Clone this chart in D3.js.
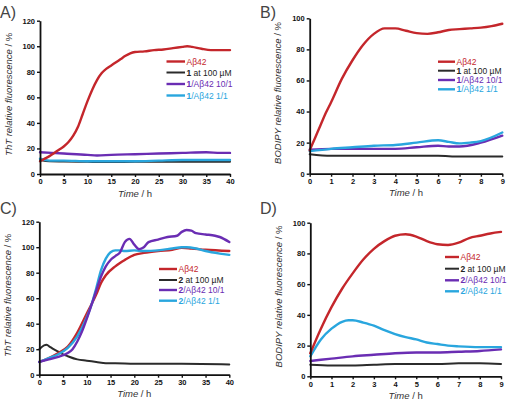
<!DOCTYPE html>
<html><head><meta charset="utf-8">
<script src="https://cdn.jsdelivr.net/npm/d3@7"></script>
<style>
html,body{margin:0;padding:0;background:#fff;}
svg{display:block;font-family:"Liberation Sans",Arial,sans-serif;}
</style></head>
<body><svg id="c" width="516" height="402"></svg>
<script>
// ---------- DATA ----------
const panelLabels = ["A)", "B)", "C)", "D)"];
const yTitlesDye = ["ThT", "BODIPY", "ThT", "BODIPY"];
const longTicks = [0, 5, 10, 15, 20, 25, 30, 35, 40];
const shortTicks = [0, 1, 2, 3, 4, 5, 6, 7, 8, 9];
const yTicks120 = [0, 20, 40, 60, 80, 100, 120];
const yTicks100 = [0, 20, 40, 60, 80, 100];
const seriesColors = ["#c4262b", "#2b2b2b", "#6a2db3", "#29a6de"];
const legendCompound = ["1", "1", "2", "2"];

// Panel A (ThT, compound 1)
const tA_abeta = [0,1,2,3,4,5,6,7,8,9,10,11,12,13,14,15,16,17,18,19,20,22,24,26,28,30,31,32,34,36,38,40];
const vA_abeta = [10,12,14,16.5,19,21.5,25,30,37,47,57,66,73.5,79,82.5,85,87.5,90,92.5,94.5,95.5,96,97,97.5,98.5,99.5,100,99.5,98,97,97,97];
const tA_cmp = [0,2,5,10,15,20,25,30,35,40];
const vA_cmp = [11,10,9.8,9.5,9.3,9.5,9.5,9.5,9.5,9.5];
const tA_r10 = [0,5,10,12,15,20,25,30,35,38,40];
const vA_r10 = [17,16,15,14.5,15,15.5,16,16.5,17,16.5,16.5];
const tA_r1 = [0,2,5,10,15,20,25,30,35,40];
const vA_r1 = [12,10.5,10.5,10,10,10,10.5,11,11,11];

// Panel B (BODIPY, compound 1)
const tB_abeta = [0,0.25,0.5,0.75,1,1.5,2,2.5,3,3.5,4,4.5,5,5.5,6,6.5,7,7.5,8,8.5,9];
const vB_abeta = [15,23,31,39,46,61,73,83,90,93.5,93.5,92,90.5,90,91,92.5,93,93.5,94,95,96.5];
const tB_cmp = [0,1,2,3,4,5,6,7,8,9];
const vB_cmp = [12.5,11.5,11.5,11.5,11.5,11.5,11.5,11,11,11];
const tB_r10 = [0,1,2,3,4,5,6,6.5,7,8,9];
const vB_r10 = [15.5,16,16,16,16,17,18,17.5,17.5,20,24.5];
const tB_r1 = [0,1,2,3,4,5,6,6.5,7,7.5,8,9];
const vB_r1 = [14.5,16,17,18,18.5,20,21.5,20.5,19.5,20,21,26.5];

// Panel C (ThT, compound 2)
const tC_abeta = [0,2,4,6,8,10,12,13,14,16,18,20,22,25,28,30,32,35,40];
const vC_abeta = [10,13,17,22,33,48,63,72,78,85,90,94,95.5,97,98,99.5,99,98,97];
const tC_cmp = [0,1,1.5,2,3,4,5,6,8,10,12,14,16,20,30,40];
const vC_cmp = [20,23,23.5,22.5,20,18,16,14.5,12,11,10,9,9,8.5,8.5,8];
const tC_r10 = [0,2,4,6,7,8,9,10,11,12,13,14,15,16,17,18,19,20,21,22,23,25,27,29,30,31,32,33,35,37,38,40];
const vC_r10 = [10,12,14,17,20,26,34,44,55,66,77,85,90,93,96,104,106.5,102,98.5,100,104,106,108,109,112,113.5,113,111,110,109,108,104];
const tC_r1 = [0,2,4,6,8,10,11,12,13,14,15,16,17,18,20,22,25,28,30,31,33,35,38,40];
const vC_r1 = [10,13,16,21,30,45,55,68,82,91,96,97.5,97.5,97,97.5,97,97.5,99,100,100,99,97,95,94];

// Panel D (BODIPY, compound 2)
const tD_abeta = [0,0.5,1,1.5,2,2.5,3,3.5,4,4.5,5,5.5,6,6.5,7,7.5,8,8.5,9];
const vD_abeta = [15,31,45,57,67,76,83,88,91.5,92.5,91,88,86,85.5,87,90,91.5,93,94];
const tD_cmp = [0,1,2,3,4,5,6,7,8,9];
const vD_cmp = [7.5,7,7,7.5,8,8,8,8.5,8.5,8];
const tD_r10 = [0,1,2,3,4,5,6,7,8,9];
const vD_r10 = [10,11.5,13,14,15,15.5,15.5,16,16.5,17.5];
const tD_r1 = [0,0.5,1,1.5,1.8,2,2.5,3,3.5,4,4.5,5,5.5,6,6.5,7,8,9];
const vD_r1 = [13,24,31,35.5,36.5,36.5,35,33,30,27.5,25.5,24,22,21,20,19.5,19,19];

// ---------- LAYOUT ----------
const panels = [
  {x0:40, x1:230, y0:174, y1:20.7, xmax:40, xt:longTicks, ymax:120, yt:yTicks120,
   lab:[0,18], ytx:12, leg:{x:166.5, y:[61.5,72.5,84,95.5], w:18.5},
   series:[[tA_cmp,vA_cmp,1],[tA_r1,vA_r1,3],[tA_r10,vA_r10,2],[tA_abeta,vA_abeta,0]]},
  {x0:309.7, x1:502.3, y0:173.7, y1:18.3, xmax:9, xt:shortTicks, ymax:100, yt:yTicks100,
   lab:[260,18], ytx:281, leg:{x:438, y:[61.7,70.7,80,89.3], w:17},
   series:[[tB_cmp,vB_cmp,1],[tB_r10,vB_r10,2],[tB_r1,vB_r1,3],[tB_abeta,vB_abeta,0]]},
  {x0:39.3, x1:229.3, y0:374.7, y1:221.7, xmax:40, xt:longTicks, ymax:120, yt:yTicks120,
   lab:[0,214], ytx:11, leg:{x:159, y:[269,280,290,300.7], w:18},
   series:[[tC_cmp,vC_cmp,1],[tC_abeta,vC_abeta,0],[tC_r1,vC_r1,3],[tC_r10,vC_r10,2]]},
  {x0:310.3, x1:501, y0:376.3, y1:222.7, xmax:9, xt:shortTicks, ymax:100, yt:yTicks100,
   lab:[260,214], ytx:282, leg:{x:445, y:[257,268.7,280.3,291.3], w:14},
   series:[[tD_cmp,vD_cmp,1],[tD_r10,vD_r10,2],[tD_r1,vD_r1,3],[tD_abeta,vD_abeta,0]]}
];

const svg = d3.select("#c");

panels.forEach((p, i) => {
  const x = d3.scaleLinear().domain([0, p.xmax]).range([p.x0, p.x1]);
  const y = d3.scaleLinear().domain([0, p.ymax]).range([p.y0, p.y1]);
  const g = svg.append("g");

  // panel label
  svg.append("text").attr("x", p.lab[0]).attr("y", p.lab[1])
    .attr("font-size", 16).attr("fill", "#444")
    .attr("font-family", "'Liberation Sans',Arial,sans-serif").text(panelLabels[i]);

  // series lines
  const line = d3.line().x(d => x(d[0])).y(d => y(d[1])).curve(d3.curveMonotoneX);
  p.series.forEach(([ts, vs, ci]) => {
    const pts = ts.map((t, k) => [t, vs[k]]);
    g.append("path").attr("d", line(pts)).attr("fill", "none")
      .attr("stroke", seriesColors[ci]).attr("stroke-width", ci === 1 ? 2 : 2.4)
      .attr("stroke-linejoin", "round").attr("stroke-linecap", "round");
  });

  // axes
  const xAxis = d3.axisBottom(x).tickValues(p.xt).tickSize(3).tickSizeOuter(0).tickPadding(2);
  const yAxis = d3.axisLeft(y).tickValues(p.yt).tickSize(3).tickSizeOuter(0).tickPadding(2);
  const gx = g.append("g").attr("transform", `translate(0,${p.y0})`).call(xAxis);
  const gy = g.append("g").attr("transform", `translate(${p.x0},0)`).call(yAxis);
  [gx, gy].forEach(a => {
    a.select(".domain").attr("stroke", "#111").attr("stroke-width", 1.8);
    a.selectAll(".tick line").attr("stroke", "#111").attr("stroke-width", 1.4);
    a.selectAll(".tick text").attr("font-size", 7.5).attr("font-weight", "bold")
      .attr("fill", "#111").attr("font-family", "'Liberation Sans',Arial,sans-serif");
  });

  // axis titles
  const xt = svg.append("text").attr("x", (p.x0 + p.x1) / 2).attr("y", p.y0 + 22.5)
    .attr("text-anchor", "middle").attr("font-size", 9.5).attr("fill", "#333");
  xt.append("tspan").attr("font-style", "italic").text("Time");
  xt.append("tspan").text(" / h");

  const yc = (p.y0 + p.y1) / 2 - 3;
  const yt = svg.append("text").attr("transform", `translate(${p.ytx},${yc}) rotate(-90)`)
    .attr("text-anchor", "middle").attr("font-size", 9.5).attr("fill", "#333");
  yt.append("tspan").attr("font-style", "italic").text(yTitlesDye[i] + " relative fluorescence");
  yt.append("tspan").text(" / %");

  // legend
  const cmp = legendCompound[i];
  const labels = [
    [{t:"Aβ42", b:false}],
    [{t:cmp, b:true}, {t:" at 100 µM", b:false}],
    [{t:cmp, b:true}, {t:"/Aβ42 10/1", b:false}],
    [{t:cmp, b:true}, {t:"/Aβ42 1/1", b:false}]
  ];
  labels.forEach((parts, k) => {
    const ly = p.leg.y[k];
    svg.append("line").attr("x1", p.leg.x).attr("x2", p.leg.x + p.leg.w)
      .attr("y1", ly).attr("y2", ly).attr("stroke", seriesColors[k])
      .attr("stroke-width", k === 1 ? 2 : 2.4);
    const tx = svg.append("text").attr("x", p.leg.x + p.leg.w + 1.5).attr("y", ly + 3)
      .attr("font-size", 8.5).attr("fill", k === 1 ? "#222" : seriesColors[k]);
    parts.forEach(pt => tx.append("tspan").attr("font-weight", pt.b ? "bold" : "normal").text(pt.t));
  });
});
</script></body></html>
